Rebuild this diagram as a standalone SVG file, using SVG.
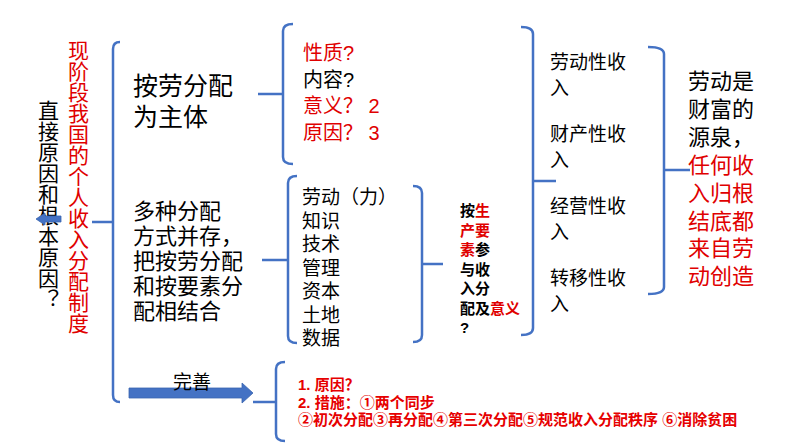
<svg xmlns="http://www.w3.org/2000/svg" width="794" height="447" viewBox="0 0 794 447">
<style>
text{font-family:"Liberation Sans","Noto Sans CJK SC",sans-serif;fill:#000}
.r{fill:#E00000}
.br{fill:none;stroke:#4472C4;stroke-width:2.5;stroke-linecap:butt}
.blk{fill:#4472C4;stroke:#3A64B0;stroke-width:0.8}
.v{writing-mode:vertical-rl;font-size:21px}
.b25{font-size:25px}
.b22{font-size:22px}
.i20{font-size:20px}
.i19{font-size:19px}
.s15{font-size:15px;font-weight:bold}
.t15{font-size:15px;font-weight:bold;fill:#E60000}
</style>
<rect width="794" height="447" fill="#fff"/>

<g id="connectors">
  <path class="br" d="M120,42 Q113,42 113,49 L113,395 Q113,402 120,402 M92,222 L113,222"/>
  <path class="br" d="M293,24 Q283,24 283,31 L283,157 Q283,164 293,164 M258,94 L283,94"/>
  <path class="br" d="M297,176 Q288,176 288,183 L288,336 Q288,343 297,343 M262,260 L288,260"/>
  <path class="br" d="M413,186 Q422,186 422,193 L422,335 Q422,342 413,342 M422,264 L443,264"/>
  <path class="br" d="M521,27 Q533,27 533,34 L533,328 Q533,335 521,335 M533,181 L556,181"/>
  <path class="br" d="M648,47 Q664,47 664,54 L664,287 Q664,294 648,294 M664,170 L690,170"/>
  <path class="br" d="M285,362 Q276,362 276,369 L276,434 Q276,441 285,441 M253,402 L276,402"/>
  <polygon id="arrow-perfect" class="blk" points="129,388 242,388 242,383 253,393 242,403 242,398 129,398"/>
</g>

<g id="node-system">
  <text class="v r" x="77" y="40">现阶段我国的个人收入分配制度</text>
</g>

<g id="node-reason">
  <text class="v" x="47" y="100">直接原因和根本原因？</text>
  <polygon id="arrow-left" class="blk" points="36,219 45,213 45,216 61,216 61,222 45,222 45,225"/>
</g>

<g id="node-main">
  <text class="b25" x="133" y="95">按劳分配<tspan x="133" dy="31">为主体</tspan></text>
</g>

<g id="node-main-q">
  <text class="i20" x="303" y="60"><tspan class="r">性质?</tspan><tspan x="303" dy="27">内容?</tspan><tspan class="r" x="303" dy="26">意义？ 2</tspan><tspan class="r" x="303" dy="27">原因？ 3</tspan></text>
</g>

<g id="node-multi">
  <text class="b22" x="133" y="219">多种分配<tspan x="133" dy="25">方式并存，</tspan><tspan x="133" dy="25">把按劳分配</tspan><tspan x="133" dy="25">和按要素分</tspan><tspan x="133" dy="25">配相结合</tspan></text>
</g>

<g id="node-factors">
  <text class="i19" x="302" y="204">劳动（力）<tspan x="302" dy="23.5">知识</tspan><tspan x="302" dy="23.5">技术</tspan><tspan x="302" dy="23.5">管理</tspan><tspan x="302" dy="23.5">资本</tspan><tspan x="302" dy="23.5">土地</tspan><tspan x="302" dy="23.5">数据</tspan></text>
</g>

<g id="node-by-factor">
  <text class="s15" x="460" y="216">按<tspan class="r">生</tspan><tspan class="r" x="460" dy="19.5">产要</tspan><tspan class="r" x="460" dy="19.5">素</tspan>参<tspan x="460" dy="19.5">与收</tspan><tspan x="460" dy="19.5">入分</tspan><tspan x="460" dy="19.5">配及</tspan><tspan class="r">意义</tspan><tspan x="460" dy="19.5">?</tspan></text>
</g>

<g id="node-incomes">
  <text class="i19" x="550" y="69">劳动性收<tspan x="550" dy="26">入</tspan></text>
  <text class="i19" x="550" y="141">财产性收<tspan x="550" dy="26">入</tspan></text>
  <text class="i19" x="550" y="213">经营性收<tspan x="550" dy="26">入</tspan></text>
  <text class="i19" x="550" y="285">转移性收<tspan x="550" dy="26">入</tspan></text>
</g>

<g id="node-labour">
  <text class="b22" x="688" y="89">劳动是<tspan x="688" dy="28">财富的</tspan><tspan x="688" dy="28">源泉，</tspan><tspan class="r" x="688" dy="28">任何收</tspan><tspan class="r" x="688" dy="28">入归根</tspan><tspan class="r" x="688" dy="27.5">结底都</tspan><tspan class="r" x="688" dy="27.5">来自劳</tspan><tspan class="r" x="688" dy="28">动创造</tspan></text>
</g>

<g id="node-perfect-label">
  <text class="i19" x="173" y="389">完善</text>
</g>

<g id="node-measures">
  <text class="t15" x="298" y="390">1. 原因？<tspan x="298" dy="17.5">2. 措施：①两个同步</tspan><tspan x="298" dy="17.5">②初次分配③再分配④第三次分配⑤规范收入分配秩序 ⑥消除贫困</tspan></text>
</g>
</svg>
